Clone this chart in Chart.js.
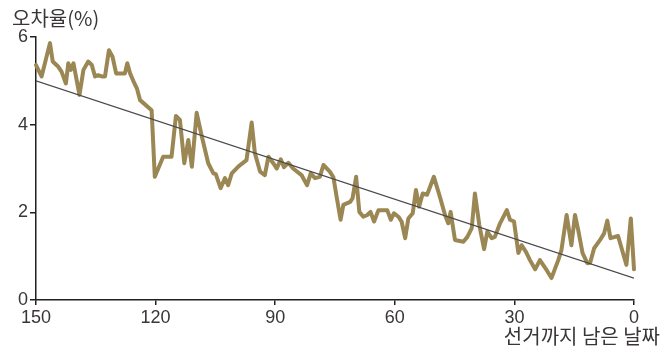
<!DOCTYPE html>
<html>
<head>
<meta charset="utf-8">
<script src="https://cdn.jsdelivr.net/npm/chart.js@4/dist/chart.umd.min.js"></script>
<style>
html,body{margin:0;padding:0;background:#fff;}
#wrap{width:668px;height:347px;position:relative;}
</style>
</head>
<body>
<div id="wrap"><canvas id="c" width="668" height="347"></canvas></div>
<script>
const yTitle = '오차율(%)';
const xTitle = '선거까지 남은 날짜';
const xTicks = [150, 120, 90, 60, 30, 0];
const yTicks = [0, 2, 4, 6];

const days = [150,148.6,146.5,145.8,144.4,143.6,142.5,141.9,141.3,140.6,139.1,138.1,136.9,136.0,135.2,134.4,133.5,132.7,131.7,130.8,129.9,127.7,127.1,126.4,125.6,124.7,123.9,121.0,120.2,118.1,116.0,114.9,113.9,112.8,111.8,110.9,109.7,108.4,106.8,105.5,104.9,103.7,102.6,101.8,100.9,99.2,97.2,95.9,95.1,93.8,92.6,91.7,90.5,89.6,88.6,87.8,86.7,85.5,83.4,82.0,81.1,80.0,78.8,77.9,76.3,75.4,74.6,73.6,72.9,71.2,70.6,69.7,68.9,67.9,66.9,66.1,65.2,64.1,61.9,61.0,60.2,59.1,58.3,57.4,56.6,55.5,54.7,53.9,53.0,51.9,50.2,48.7,47.4,46.6,46.0,44.9,42.8,41.8,40.7,39.9,38.8,37.6,36.8,35.7,34.9,33.6,31.9,31.1,30.1,29.0,28.2,27.1,26.1,24.8,23.6,21.9,20.7,19.0,18.2,16.9,15.7,14.8,14.0,12.9,11.7,11.0,10.0,8.5,7.5,6.7,5.9,4.0,1.9,0.8,0];
const errorRate = [5.36,5.10,5.86,5.44,5.32,5.21,4.94,5.40,5.25,5.40,4.68,5.25,5.44,5.36,5.10,5.13,5.10,5.10,5.70,5.55,5.17,5.17,5.40,5.17,5.00,4.83,4.56,4.33,2.81,3.27,3.27,4.20,4.11,3.12,3.65,3.04,4.27,3.73,3.12,2.89,2.87,2.55,2.78,2.62,2.89,3.05,3.19,4.05,3.35,2.93,2.85,3.27,3.12,3.00,3.21,3.03,3.13,3.00,2.85,2.62,2.89,2.78,2.81,3.08,2.93,2.80,2.36,1.83,2.17,2.24,2.32,2.81,2.01,1.90,1.94,2.01,1.79,2.05,2.05,1.83,1.98,1.90,1.79,1.41,1.86,1.98,2.51,2.13,2.43,2.40,2.81,2.36,1.94,1.75,2.01,1.37,1.33,1.44,1.64,2.43,1.71,1.16,1.56,1.41,1.44,1.75,2.05,1.83,1.79,1.07,1.25,1.10,0.91,0.70,0.91,0.68,0.50,0.91,1.14,1.94,1.25,1.94,1.60,1.07,0.84,0.85,1.18,1.37,1.52,1.81,1.41,1.46,0.80,1.86,0.70];

const trendDays = [150, 0];
const trendValues = [5.0, 0.5];

const textColor = '#3a3536';
const axisColor = '#231f20';

const titlePlugin = {
  id: 'titles',
  afterDraw(chart) {
    const ctx = chart.ctx;
    ctx.save();
    ctx.fillStyle = textColor;
    ctx.font = '20px "Noto Sans CJK KR", sans-serif';
    ctx.textBaseline = 'middle';
    ctx.textAlign = 'left';
    ctx.fillText(yTitle, 12, 18);
    ctx.textAlign = 'right';
    ctx.fillText(xTitle, 660, 336);
    ctx.restore();
  }
};

new Chart(document.getElementById('c'), {
  type: 'line',
  data: {
    datasets: [
      {
        data: trendDays.map((d, i) => ({x: d, y: trendValues[i]})),
        borderColor: '#4a4a4c',
        borderWidth: 1.2,
        pointRadius: 0,
        tension: 0,
        order: 0
      },
      {
        data: days.map((d, i) => ({x: d, y: errorRate[i]})),
        borderColor: '#9a8753',
        borderWidth: 4,
        pointRadius: 0,
        tension: 0,
        borderJoinStyle: 'round',
        borderCapStyle: 'round',
        clip: false,
        order: 1
      }
    ]
  },
  options: {
    responsive: false,
    animation: false,
    devicePixelRatio: 1,
    layout: { padding: { left: 0, top: 37, right: 34, bottom: 0 } },
    plugins: { legend: { display: false }, tooltip: { enabled: false } },
    scales: {
      x: {
        type: 'linear',
        reverse: true,
        min: 0,
        max: 150,
        afterBuildTicks(s) { s.ticks = xTicks.map(v => ({value: v})); },
        afterFit(s) { s.height = 47; },
        border: { display: true, color: axisColor, width: 1.5 },
        grid: { display: true, drawOnChartArea: false, drawTicks: true, tickLength: 5, color: axisColor, lineWidth: 1.5 },
        ticks: { color: textColor, font: { family: '"Liberation Sans", Arial, sans-serif', size: 18 }, padding: 2, maxRotation: 0 }
      },
      y: {
        min: 0,
        max: 6,
        afterBuildTicks(s) { s.ticks = yTicks.map(v => ({value: v})); },
        afterFit(s) { s.width = 36; },
        border: { display: true, color: axisColor, width: 1.5 },
        grid: { display: true, drawOnChartArea: false, drawTicks: true, tickLength: 6, color: axisColor, lineWidth: 1.5 },
        ticks: { color: textColor, font: { family: '"Liberation Sans", Arial, sans-serif', size: 18 }, padding: 2 }
      }
    }
  },
  plugins: [titlePlugin]
});
</script>
</body>
</html>
